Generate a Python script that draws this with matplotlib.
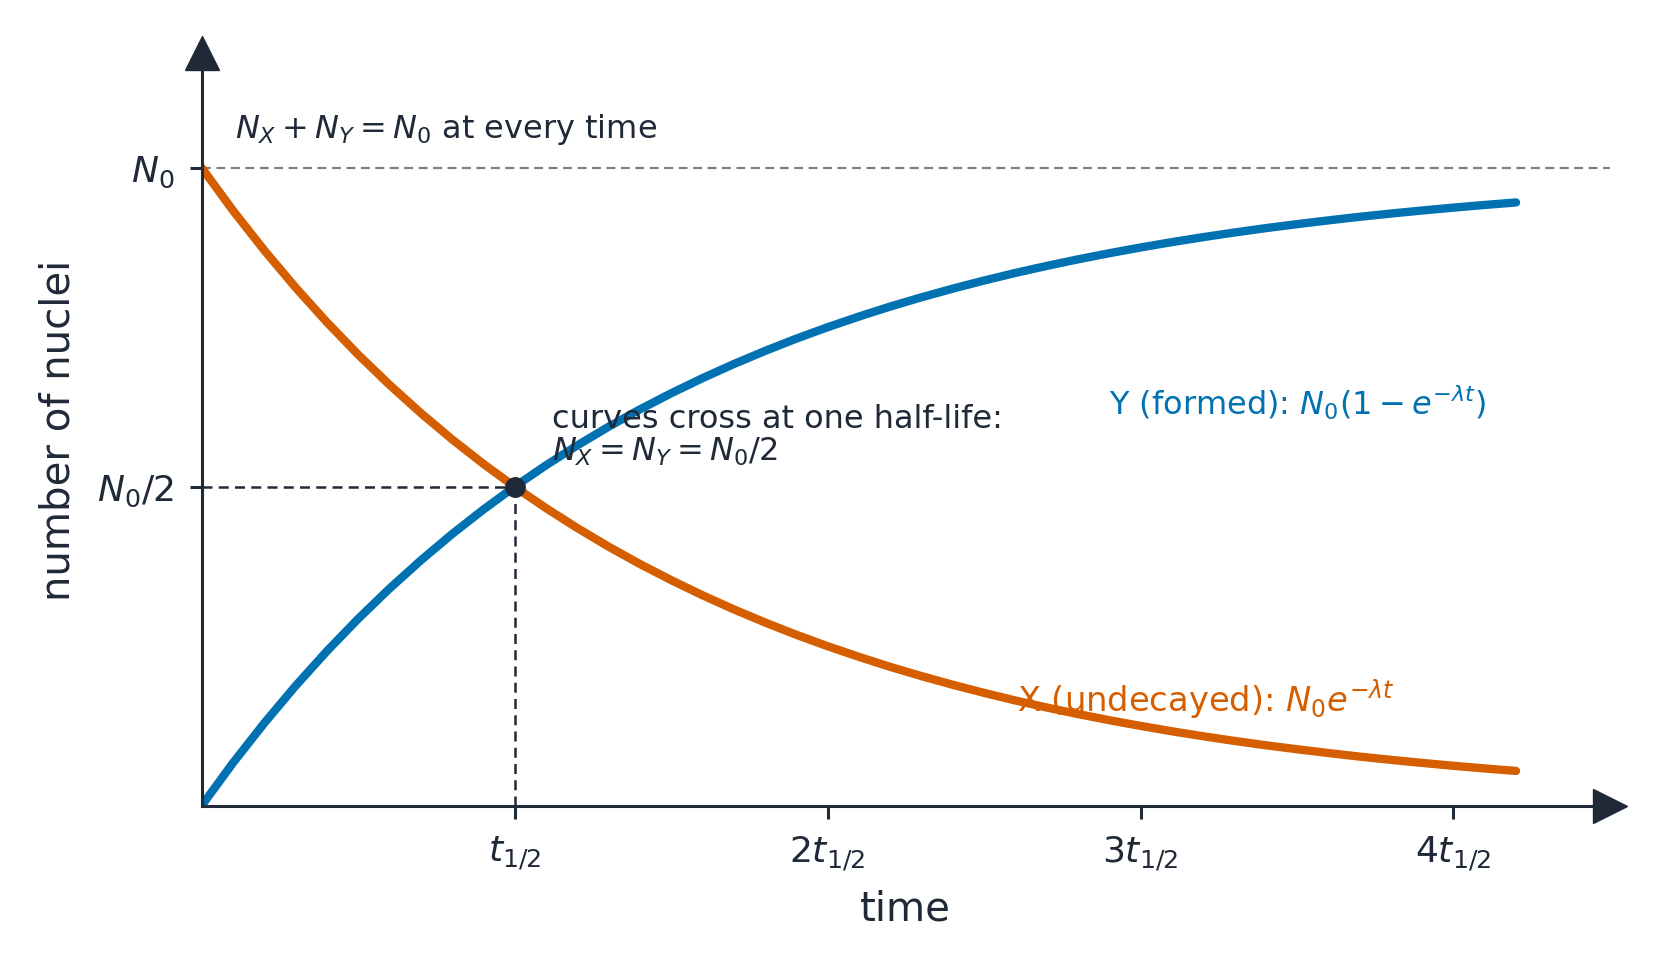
import matplotlib
matplotlib.use("Agg")
import matplotlib.pyplot as plt

# time in units of half-life
t_half = [0.0, 0.1, 0.2, 0.3, 0.4, 0.5, 0.6, 0.7, 0.8, 0.9, 1.0,
          1.1, 1.2, 1.3, 1.4, 1.5, 1.6, 1.7, 1.8, 1.9, 2.0,
          2.1, 2.2, 2.3, 2.4, 2.5, 2.6, 2.7, 2.8, 2.9, 3.0,
          3.1, 3.2, 3.3, 3.4, 3.5, 3.6, 3.7, 3.8, 3.9, 4.0,
          4.1, 4.2]
# fraction of N0 undecayed (X)
n_x = [1.0000, 0.9330, 0.8706, 0.8123, 0.7579, 0.7071, 0.6598, 0.6156, 0.5743, 0.5359, 0.5000,
       0.4665, 0.4353, 0.4061, 0.3789, 0.3536, 0.3299, 0.3078, 0.2872, 0.2679, 0.2500,
       0.2333, 0.2176, 0.2031, 0.1895, 0.1768, 0.1649, 0.1539, 0.1436, 0.1340, 0.1250,
       0.1166, 0.1088, 0.1015, 0.0947, 0.0884, 0.0825, 0.0769, 0.0718, 0.0670, 0.0625,
       0.0583, 0.0544]
# fraction of N0 formed (Y)
n_y = [0.0000, 0.0670, 0.1294, 0.1877, 0.2421, 0.2929, 0.3402, 0.3844, 0.4257, 0.4641, 0.5000,
       0.5335, 0.5647, 0.5939, 0.6211, 0.6464, 0.6701, 0.6922, 0.7128, 0.7321, 0.7500,
       0.7667, 0.7824, 0.7969, 0.8105, 0.8232, 0.8351, 0.8461, 0.8564, 0.8660, 0.8750,
       0.8834, 0.8912, 0.8985, 0.9053, 0.9116, 0.9175, 0.9231, 0.9282, 0.9330, 0.9375,
       0.9417, 0.9456]

x_ticks = [1, 2, 3, 4]
x_tick_labels = [r"$t_{1/2}$", r"$2t_{1/2}$", r"$3t_{1/2}$", r"$4t_{1/2}$"]
y_ticks = [0.5, 1.0]
y_tick_labels = [r"$N_0/2$", r"$N_0$"]
cross_point = (1.0, 0.5)

DARK = "#1f2937"
ORANGE = "#d55e00"
BLUE = "#0072b2"
GRAY = "#808080"

plt.rcParams["font.family"] = ["DejaVu Sans"]
plt.rcParams["mathtext.fontset"] = "dejavusans"

fig = plt.figure(figsize=(16.64, 9.70), dpi=100)
ax = fig.add_axes([0.1212, 0.1684, 0.8463, 0.776])
ax.set_xlim(0, 4.5)
ax.set_ylim(0, 1.18)

ax.axhline(1.0, color=GRAY, lw=1.6, ls=(0, (4, 2.5)), zorder=1)
ax.plot([0, cross_point[0]], [cross_point[1], cross_point[1]], color=DARK, lw=1.8,
        ls=(0, (4, 2.5)), zorder=1)
ax.plot([cross_point[0], cross_point[0]], [0, cross_point[1]], color=DARK, lw=1.8,
        ls=(0, (4, 2.5)), zorder=1)

ax.plot(t_half, n_x, color=ORANGE, lw=6.0, solid_capstyle="round",
        solid_joinstyle="round", zorder=2)
ax.plot(t_half, n_y, color=BLUE, lw=6.0, solid_capstyle="round",
        solid_joinstyle="round", zorder=2)
ax.plot([cross_point[0]], [cross_point[1]], "o", color=DARK, ms=14, zorder=5)

for side in ["top", "right"]:
    ax.spines[side].set_visible(False)
for side in ["left", "bottom"]:
    ax.spines[side].set_color(DARK)
    ax.spines[side].set_linewidth(2.2)

ax.plot(1, 0, ">", color=DARK, ms=24, transform=ax.get_yaxis_transform(), clip_on=False)
ax.plot(0, 1, "^", color=DARK, ms=24, transform=ax.get_xaxis_transform(), clip_on=False)

ax.set_xticks(x_ticks)
ax.set_xticklabels(x_tick_labels)
ax.set_yticks(y_ticks)
ax.set_yticklabels(y_tick_labels)
ax.tick_params(axis="both", colors=DARK, labelcolor=DARK, length=9, width=2.2,
               labelsize=26, pad=11)

ax.set_xlabel("time", fontsize=29, color=DARK, labelpad=12)
ax.set_ylabel("number of nuclei", fontsize=29, color=DARK, labelpad=14)

ax.text(0.106, 1.048, r"$N_X + N_Y = N_0$ at every time", fontsize=23, color=DARK,
        va="baseline", ha="left")
ax.text(1.12, 0.543, "curves cross at one half-life:\n" + r"$N_X = N_Y = N_0/2$",
        fontsize=23, color=DARK, va="baseline", ha="left", linespacing=1.0)
ax.text(2.90, 0.614, r"Y (formed): $N_0(1 - e^{-\lambda t})$", fontsize=23, color=BLUE,
        va="baseline", ha="left")
ax.text(2.605, 0.148, r"X (undecayed): $N_0e^{-\lambda t}$", fontsize=24.3, color=ORANGE,
        va="baseline", ha="left")

fig.savefig("out.png", dpi=100)
